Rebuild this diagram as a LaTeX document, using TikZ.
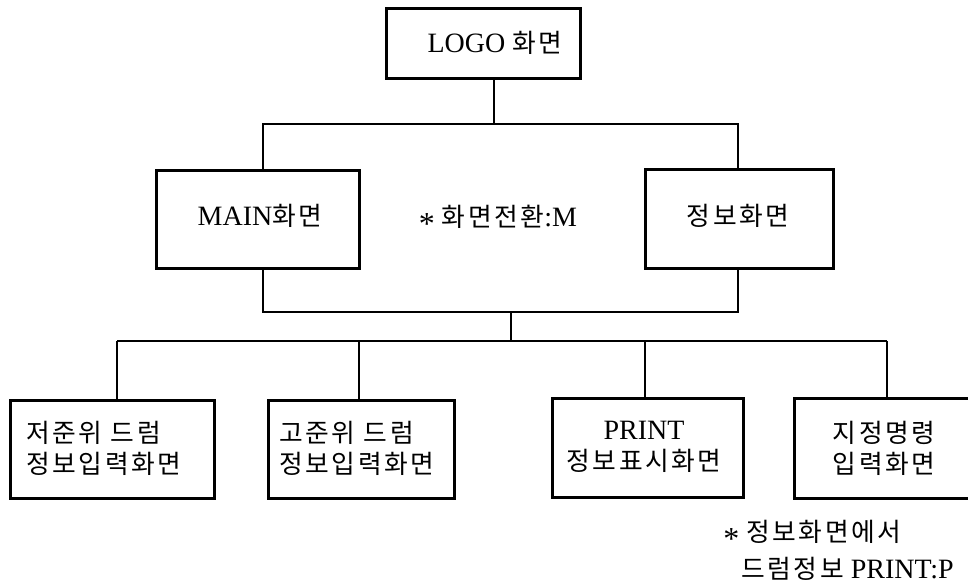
\documentclass[tikz,border=0pt]{standalone}
\usepackage{fontspec}
\setmainfont{Liberation Serif}
\newfontfamily\kr{Noto Sans CJK KR}[Scale=0.92,LetterSpace=10]
\newcommand{\myast}{\raisebox{-0.28em}{\fontsize{32}{32}\selectfont *}}
\begin{document}
\begin{tikzpicture}[x=1pt,y=-1pt,line width=2.6pt,
  box/.style={draw,line width=2.6pt,inner sep=0pt,anchor=north west},
  txt/.style={inner sep=0pt,font=\fontsize{28}{31}\selectfont}]
\useasboundingbox (0,0) rectangle (968,584);
\clip (0,0) rectangle (968,584);
% boxes
\node[box,minimum width=194pt,minimum height=70pt] (logo) at (385,7) {};
\node[box,minimum width=203pt,minimum height=98pt] (main) at (155,169) {};
\node[box,minimum width=188pt,minimum height=99pt] (info) at (644,168) {};
\node[box,minimum width=204pt,minimum height=98pt] (b1) at (9,399) {};
\node[box,minimum width=186pt,minimum height=98pt] (b2) at (267,399) {};
\node[box,minimum width=191pt,minimum height=99pt] (b3) at (551,397) {};
\node[box,minimum width=190pt,minimum height=100pt] (b4) at (793,397) {};
% texts
\node[txt] (logoT) at (495,43) {LOGO {\kr 화면}};
\node[txt] (mainT) at (260,216) {MAIN{\kr 화면}};
\node[txt] (infoT) at (738,216) {{\kr 정보화면}};
\node[txt] (switchT) at (498,220) {\myast\ {\kr 화면전환}:M};
\node[txt,align=left,anchor=west] (b1T) at (25,448) {{\kr 저준위 드럼}\\{\kr 정보입력화면}};
\node[txt,align=left,anchor=west] (b2T) at (278,448) {{\kr 고준위 드럼}\\{\kr 정보입력화면}};
\node[txt,align=center] (b3T) at (644,447) {PRINT\\{\kr 정보표시화면}};
\node[txt,align=center] (b4T) at (884,448) {{\kr 지정명령}\\{\kr 입력화면}};
\node[txt,anchor=west] (fn1) at (722,535) {\myast\ {\kr 정보화면에서}};
\node[txt,anchor=west] (fn2) at (740,569) {{\kr 드럼정보} PRINT:P};
% junctions
\coordinate (jt) at (494,124);
\coordinate (jm) at (263,124);
\coordinate (ji) at (738,124);
\coordinate (jmb) at (263,312);
\coordinate (jib) at (738,312);
\coordinate (jc) at (511,312);
\coordinate (jd) at (511,341);
\coordinate (k1) at (117,341);
\coordinate (k2) at (359,341);
\coordinate (k3) at (645,341);
\coordinate (k4) at (887,341);
% connectors
\draw (logo.south -| jt) -- (jt);
\draw (main.north -| jm) -- (jm) -- (ji) -- (info.north -| ji);
\draw (main.south -| jmb) -- (jmb) -- (jib) -- (info.south -| jib);
\draw (jc) -- (jd);
\draw (k1) -- (k4);
\draw (k1) -- (b1.north -| k1);
\draw (k2) -- (b2.north -| k2);
\draw (k3) -- (b3.north -| k3);
\draw (k4) -- (b4.north -| k4);
\end{tikzpicture}
\end{document}
